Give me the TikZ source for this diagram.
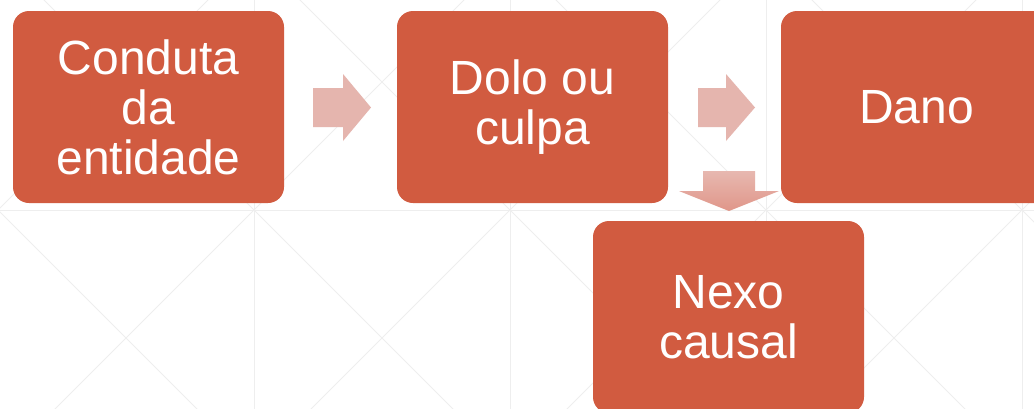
\documentclass[tikz,border=0pt]{standalone}
\usepackage{fontspec}
\setmainfont{Liberation Sans}
\definecolor{boxred}{RGB}{209,91,64}
\definecolor{arrowpink}{RGB}{229,181,174}
\definecolor{arrowtop}{RGB}{231,184,176}
\definecolor{arrowbot}{RGB}{224,150,137}
\definecolor{gridgray}{RGB}{238,238,238}
\tikzset{
  stepbox/.style={rectangle, rounded corners=16pt, fill=boxred, text=white,
    minimum width=271pt, minimum height=192pt, inner sep=0pt, align=center,
    font=\fontsize{48}{50}\selectfont},
  gridline/.style={draw=gridgray, line width=0.8pt},
  blockarrow/.style={fill=arrowpink, draw=none}
}
\begin{document}
\begin{tikzpicture}[x=1pt,y=1pt]
\useasboundingbox (0,0) rectangle (1034,-408);
\fill[white] (0,0) rectangle (1034,-408);
\begin{scope}
\clip (0,0) rectangle (1034,-408);
\foreach \gx in {254,510,766,1022} \draw[gridline] (\gx,10) -- (\gx,-420);
\draw[gridline] (-10,-210) -- (1050,-210);
\foreach \k in {-4,...,6} {
  \pgfmathsetmacro{\ca}{44+256*\k}
  \pgfmathsetmacro{\cb}{-48+256*\k}
  \draw[gridline] (-500,{-(-500-\ca)}) -- (1600,{-(1600-\ca)});
  \draw[gridline] (-500,{-(\cb+500)}) -- (1600,{-(\cb-1600)});
}
\end{scope}
\node[stepbox] (conduta) at (148.5,-107) {Conduta\\da\\entidade};
\node[stepbox] (dolo) at (532.5,-107) {Dolo ou\\culpa};
\node[stepbox] (dano) at (916.5,-107) {Dano};
\node[stepbox] (nexo) at (728.5,-317) {Nexo\\causal};
% right arrows
\fill[blockarrow] (313,-88) -- (343,-88) -- (343,-74) -- (371,-107.5) -- (343,-141) -- (343,-127) -- (313,-127) -- cycle;
\fill[blockarrow] (698,-88) -- (726,-88) -- (726,-74) -- (755,-107.5) -- (726,-141) -- (726,-127) -- (698,-127) -- cycle;
% down arrow
\shade[top color=arrowtop, bottom color=arrowbot] (703,-171) -- (755,-171) -- (755,-191) -- (779,-191) -- (729,-211) -- (679,-191) -- (703,-191) -- cycle;
\end{tikzpicture}
\end{document}
